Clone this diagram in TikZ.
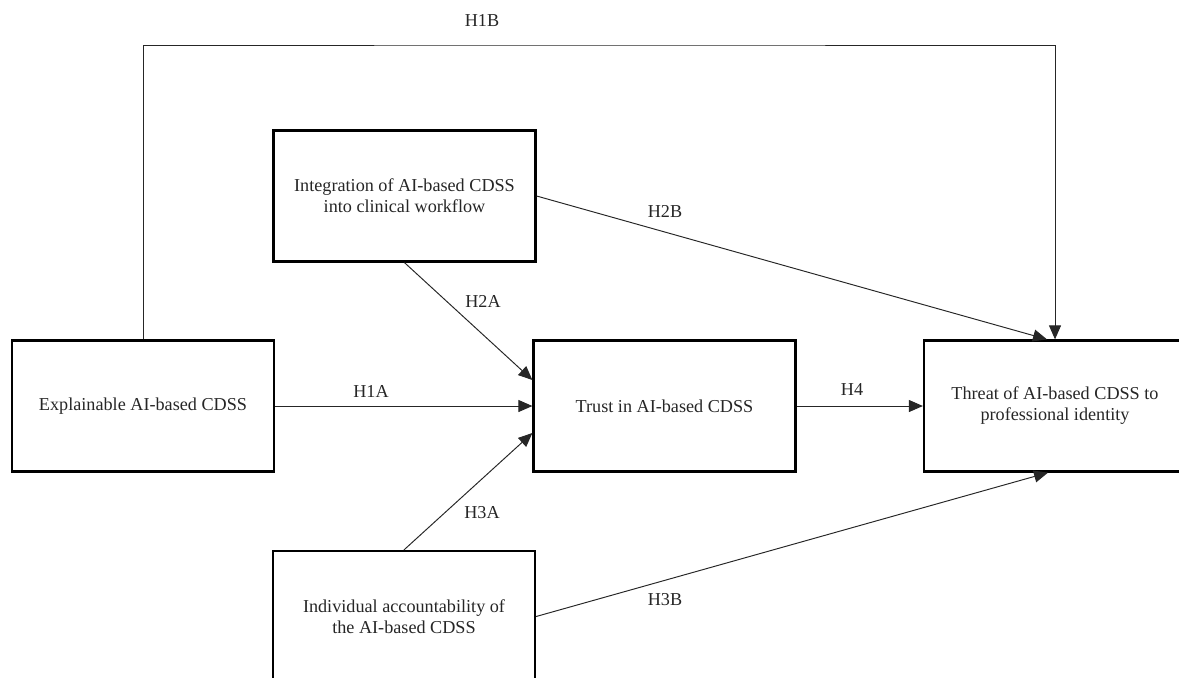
\documentclass[tikz,border=0pt]{standalone}
\usepackage{fontspec}
\setmainfont{Liberation Serif}
\usetikzlibrary{arrows.meta}

\tikzset{
  box/.style={draw,line width=1.3pt,minimum width=5.24cm,minimum height=2.62cm,align=center,inner sep=0pt},
  link/.style={arrows={-Triangle[length=0.28cm,width=0.24cm]},line width=0.55pt,draw=black!85},
}

\begin{document}
\begin{tikzpicture}[x=0.02cm,y=-0.02cm,font=\fontsize{10.35}{11.9}\selectfont,text=black!85]

    \useasboundingbox (0,0) rectangle (1179,677);
    \clip (0,0) rectangle (1179,677);

    \node[box] (expl)   at (143,406)   {Explainable AI-based CDSS};
    \node[box] (integ)  at (404.5,196) {Integration of AI-based CDSS\\into clinical workflow};
    \node[box] (trust)  at (664.5,406) {Trust in AI-based CDSS};
    \node[box] (threat) at (1055,406)  {Threat of AI-based CDSS to\\professional identity};
    \node[box] (indiv)  at (404,616.5) {Individual accountability of\\the AI-based CDSS};

    \coordinate (top) at (600,45);

    \draw[link] (expl.east) to (trust.west);
    \draw[link] (integ.south) to ([yshift=0.52cm]trust.west);
    \draw[link] (indiv.north) to ([yshift=-0.54cm]trust.west);
    \draw[link] (trust.east) to (threat.west);
    \draw[link] (integ.east) to ([xshift=-0.16cm]threat.north);
    \draw[link] (indiv.east) to ([xshift=-0.14cm]threat.south);
    \draw[link] (expl.north) |- (top) -| (threat.north);

    \node (h1b) at (482,21)  {H1B};
    \node (h2b) at (665,211) {H2B};
    \node (h2a) at (483,301) {H2A};
    \node (h1a) at (371,391) {H1A};
    \node (h4)  at (852,390) {H4};
    \node (h3a) at (482,513) {H3A};
    \node (h3b) at (665,600) {H3B};

\end{tikzpicture}
\end{document}
